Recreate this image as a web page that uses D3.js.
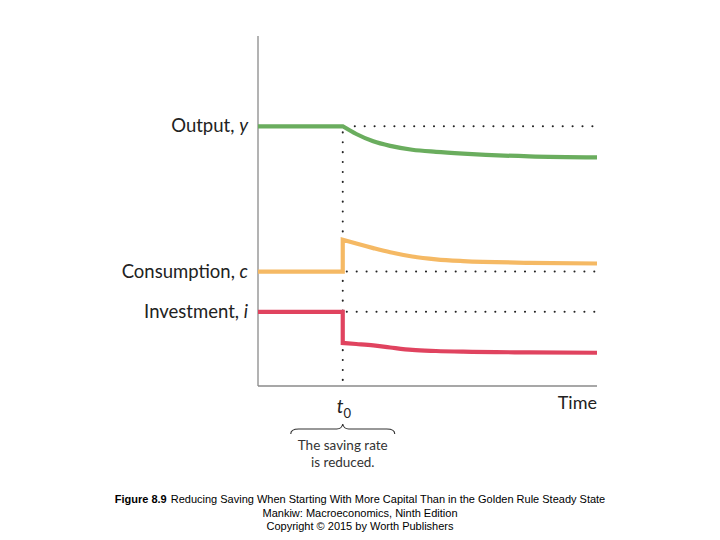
<!DOCTYPE html>
<html lang="en">
  <head>
    <meta charset="utf-8" />
    <title>Reducing Saving</title>
    <script src="https://cdn.jsdelivr.net/npm/d3@7"></script>
    <style>
      body { margin: 0; background: #fff; }
    </style>
  </head>
  <body>
    <svg id="chart" width="720" height="540" viewBox="0 0 720 540"></svg>
    <script>
      // time points (t0 = 5, listed twice for the jump) and levels of each series
      const time = [0, 5, 5, 5.8, 6.8, 7.8, 9.1, 10.5, 12.1, 16, 20];
      const output = [74.2, 74.2, 74.2, 72.0, 69.9, 68.6, 67.5, 66.9, 66.4, 65.6, 65.3];
      const consumption = [32.7, 32.7, 41.8, 40.7, 39.4, 38.2, 37.0, 36.2, 35.7, 35.2, 35.0];
      const investment = [21.2, 21.2, 12.3, 12.0, 11.6, 11.0, 10.3, 10.0, 9.8, 9.6, 9.5];
      const t0 = 5;
      const seriesNames = ["Output, ", "Consumption, ", "Investment, "];
      const seriesVars = ["y", "c", "i"];
      const colors = ["#6aad5e", "#f5b964", "#e0435f"];

      const svg = d3.select("#chart");
      const margin = { top: 36, right: 123, bottom: 154, left: 258 };
      const width = 720 - margin.left - margin.right;
      const height = 540 - margin.top - margin.bottom;
      const g = svg.append("g").attr("transform", `translate(${margin.left}, ${margin.top})`);

      const x = d3.scaleLinear().domain([0, 20]).range([0, width]);
      const y = d3.scaleLinear().domain([0, 100]).range([height, 0]);

      // axes as plain lines (no ticks)
      g.append("line").attr("x1", 0).attr("x2", 0).attr("y1", 0).attr("y2", height)
        .attr("stroke", "#8a8a8a").attr("stroke-width", 1.3);
      g.append("line").attr("x1", 0).attr("x2", width).attr("y1", height).attr("y2", height)
        .attr("stroke", "#8a8a8a").attr("stroke-width", 1.3);

      const series = [output, consumption, investment];

      // dotted reference lines at initial levels
      series.forEach((s) => {
        g.append("line")
          .attr("x1", x(t0) + (s === output ? 12 : 4)).attr("x2", x(20) - 2)
          .attr("y1", y(s[0])).attr("y2", y(s[0]))
          .attr("stroke", "#222").attr("stroke-width", 2)
          .attr("stroke-dasharray", "0.1 9.8").attr("stroke-linecap", "round");
      });
      g.append("line")
        .attr("x1", x(t0)).attr("x2", x(t0))
        .attr("y1", y(output[0]) + 6).attr("y2", height - 2)
        .attr("stroke", "#222").attr("stroke-width", 2)
        .attr("stroke-dasharray", "0.1 9.8").attr("stroke-linecap", "round");

      // flat part + jump drawn straight, the adjustment path drawn smooth
      const pts = (s) => s.map((v, i) => [x(time[i]), y(v)]);
      const straight = d3.line();
      const smooth = d3.line().curve(d3.curveMonotoneX);

      series.forEach((s, k) => {
        const p = pts(s);
        g.append("path")
          .attr("d", straight(p.slice(0, 3)) + smooth(p.slice(2)).replace(/^M[^A-Z]*/, "L" + p[2].join(",")))
          .attr("fill", "none")
          .attr("stroke", colors[k])
          .attr("stroke-width", 4.2)
          .attr("stroke-linejoin", "miter");
      });

      // series labels
      const labelFont = "'Lato', 'Open Sans', sans-serif";
      series.forEach((s, k) => {
        const t = g.append("text")
          .attr("x", -10)
          .attr("y", y(s[0]) + 6)
          .attr("text-anchor", "end")
          .attr("font-family", labelFont)
          .attr("font-size", "18.5px")
          .attr("fill", "#222");
        t.append("tspan").text(seriesNames[k]);
        t.append("tspan").attr("font-style", "italic").text(seriesVars[k]);
      });

      // t0 and Time labels
      const t0Label = g.append("text")
        .attr("x", x(t0) - 6).attr("y", height + 27)
        .attr("font-family", labelFont).attr("font-size", "19px")
        .attr("font-style", "italic").attr("fill", "#222");
      t0Label.append("tspan").text("t");
      t0Label.append("tspan").attr("font-size", "13px").attr("font-style", "normal").attr("dy", 5).text("0");

      g.append("text")
        .attr("x", width).attr("y", height + 23)
        .attr("text-anchor", "end")
        .attr("font-family", labelFont).attr("font-size", "18px")
        .attr("fill", "#222").text("Time");

      // curly brace under t0
      const bx = x(t0), by = height + 38;
      const bl = bx - 52, br = bx + 52;
      g.append("path")
        .attr("d", `M${bl},${by + 10} Q${bl},${by + 5} ${bl + 8},${by + 5} L${bx - 6},${by + 5} Q${bx - 1},${by + 5} ${bx},${by}` +
                   ` Q${bx + 1},${by + 5} ${bx + 6},${by + 5} L${br - 8},${by + 5} Q${br},${by + 5} ${br},${by + 10}`)
        .attr("fill", "none").attr("stroke", "#333").attr("stroke-width", 1.1);

      ["The saving rate", "is reduced."].forEach((txt, i) => {
        g.append("text")
          .attr("x", bx).attr("y", by + 26 + i * 17)
          .attr("text-anchor", "middle")
          .attr("font-family", labelFont).attr("font-size", "13.5px")
          .attr("fill", "#333").text(txt);
      });

      // caption
      const capFont = "'Liberation Sans', Arial, sans-serif";
      const cap1 = svg.append("text")
        .attr("x", 360).attr("y", 503).attr("text-anchor", "middle")
        .attr("font-family", capFont).attr("font-size", "11px").attr("fill", "#000");
      cap1.append("tspan").attr("font-weight", "bold").text("Figure 8.9");
      cap1.append("tspan").attr("dx", 4).text("Reducing Saving When Starting With More Capital Than in the Golden Rule Steady State");
      ["Mankiw: Macroeconomics, Ninth Edition", "Copyright \u00a9 2015 by Worth Publishers"].forEach((txt, i) => {
        svg.append("text")
          .attr("x", 360).attr("y", 517 + i * 13).attr("text-anchor", "middle")
          .attr("font-family", capFont).attr("font-size", "11px").attr("fill", "#000")
          .text(txt);
      });
    </script>
  </body>
</html>
